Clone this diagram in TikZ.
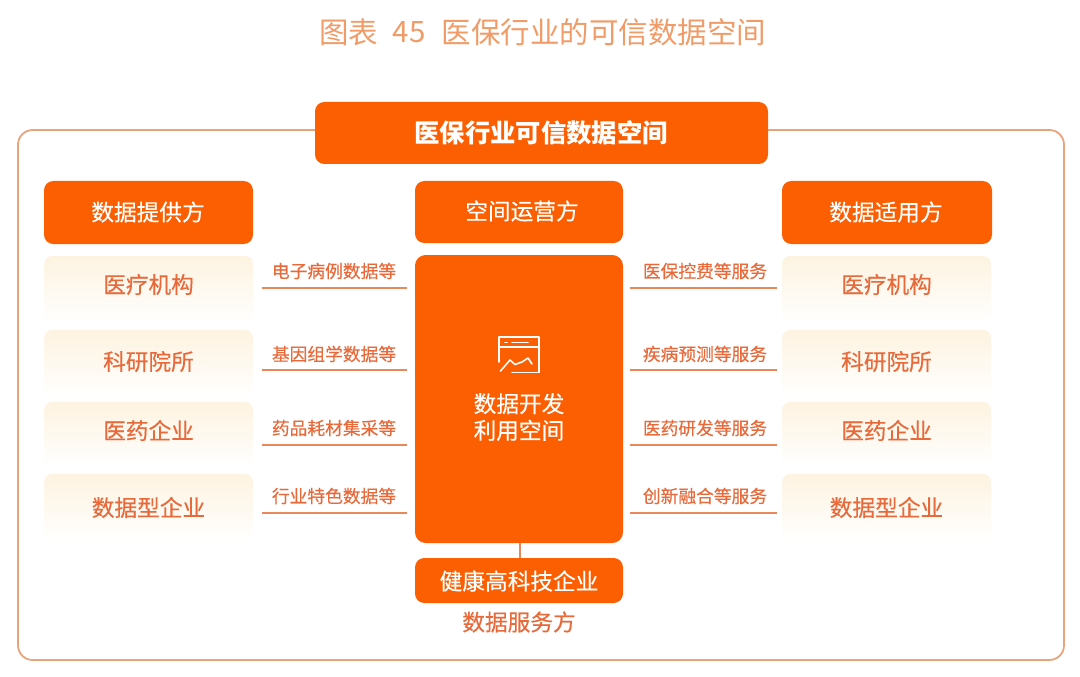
\documentclass[tikz,border=0pt]{standalone}
\usepackage{fontspec}
\setmainfont{Noto Sans CJK SC}
\newfontfamily\medf[FakeBold=0.3]{Noto Sans CJK SC}
\definecolor{mainor}{HTML}{FB5F02}
\definecolor{frameor}{HTML}{E9A27A}
\definecolor{lineor}{HTML}{E9885A}
\definecolor{softor}{HTML}{E8693A}
\definecolor{softbg}{HTML}{FDF3E0}
\definecolor{titleor}{HTML}{F19C68}
\newcommand{\fs}[1]{\fontsize{#1}{#1}\selectfont}
\tikzset{
  x=0.75pt,y=-0.75pt,
  solidbox/.style={fill=mainor,rounded corners=7pt,inner sep=0pt,text=white,align=center},
  softtxt/.style={text=softor,font=\medf\fs{17}},
  head/.style={text=white,font=\medf\fs{17}},
  lbl/.style={text=softor,font=\medf\fs{13.3},inner sep=0pt},
  rule/.style={draw=lineor,line width=0.8pt},
}
\begin{document}
\begin{tikzpicture}
\useasboundingbox (0,0) rectangle (1080,677);
\fill[white] (0,0) rectangle (1080,677);
\node[text=titleor,font=\fs{22.1},inner sep=0pt] (title1) at (348.5,32) {图表};
\node[text=titleor,font=\fs{22.1},inner sep=0pt] (title2) at (409,32) {45};
\node[text=titleor,font=\fs{22.1},inner sep=0pt] (title3) at (604,32) {医保行业的可信数据空间};
% frame
\draw[frameor,line width=1.3pt,rounded corners=11pt] (18,130) rectangle (1064,660);
% header
\path[solidbox] (315,102) rectangle (768,164);
\node[text=white,font=\bfseries\fs{19},inner sep=0pt] (hdr) at (541,133) {医保行业可信数据空间};
% column heads
\path[solidbox] (44,181) rectangle (253,244);
\node[head,inner sep=0pt] (lefthead) at (148,212) {数据提供方};
\path[solidbox] (415,181) rectangle (623,243);
\node[head,inner sep=0pt] (midhead) at (522,211) {空间运营方};
\path[solidbox] (782,181) rectangle (992,244);
\node[head,inner sep=0pt] (righthead) at (886,212) {数据适用方};
% soft boxes
\foreach \n/\x/\yt/\yb/\yc/\t in {
 la/44/256/322/284.5/医疗机构, lb/44/330/396/361.5/科研院所, lc/44/402/466/430.5/医药企业, ld/44/474/540/507.5/数据型企业,
 ra/782/256/322/284.5/医疗机构, rb/782/330/396/361.5/科研院所, rc/782/402/466/430.5/医药企业, rd/782/474/540/507.5/数据型企业}{
  \shade[rounded corners=6pt,top color=softbg,bottom color=white] (\x,\yt) rectangle (\x+209,\yb);
  \node[softtxt,inner sep=0pt] (\n) at (\x+104.5,\yc) {\t};
}
% centre
\path[solidbox,rounded corners=8pt] (415,255) rectangle (623,543);
\coordinate (centreS) at (520,543);
\node[text=white,font=\medf\fs{17},align=center,inner sep=0pt] (centre) at (519,417) {数据开发\\[3pt]利用空间};
% icon
\begin{scope}[draw=white,line width=1.2pt,line cap=round,line join=round]
\draw (499,362) -- (499,337) -- (539,337) -- (539,372.5) -- (512,372.5);
\draw (499,347) -- (539,347);
\draw (505,342.5) -- (507,342.5) (512,342.5) -- (528,342.5);
\draw (500.5,371) -- (510,360) -- (515,364.5) -- (522,362) -- (528,358) -- (532,364);
\end{scope}
% bottom
\path[solidbox] (415,558) rectangle (623,603);
\node[text=white,font=\medf\fs{17},inner sep=0pt] (tech) at (519,581) {健康高科技企业};
\coordinate (techN) at (520,558);
\draw[rule] (centreS) -- (techN);
\node[text=softor,font=\medf\fs{17},inner sep=0pt] (svc) at (519,622) {数据服务方};
% labels and rules
\foreach \n/\y/\ty/\t in {a/288/271/电子病例数据等, b/370/354/基因组学数据等, c/445/428/药品耗材集采等, d/513/496/行业特色数据等}{
  \node[lbl] (l\n) at (334,\ty) {\t};
  \coordinate (l\n W) at (262,\y);
  \coordinate (l\n E) at (407,\y);
  \draw[rule] (l\n W) -- (l\n E);
}
\foreach \n/\y/\ty/\t in {a/288/271/医保控费等服务, b/370/354/疾病预测等服务, c/445/428/医药研发等服务, d/513/496/创新融合等服务}{
  \node[lbl] (r\n) at (705,\ty) {\t};
  \coordinate (r\n W) at (630,\y);
  \coordinate (r\n E) at (777,\y);
  \draw[rule] (r\n W) -- (r\n E);
}
\end{tikzpicture}
\end{document}
